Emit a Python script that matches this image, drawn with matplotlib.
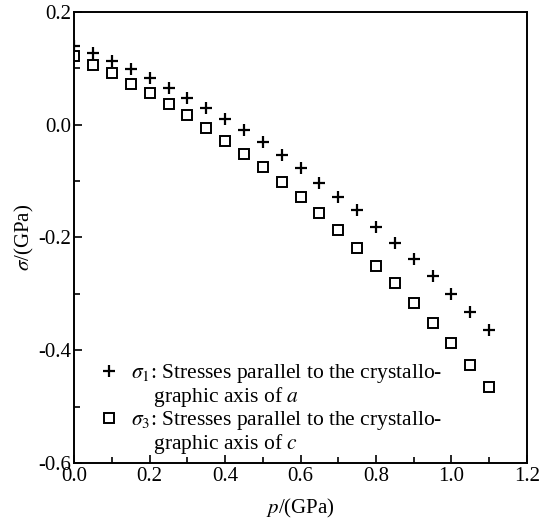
import numpy as np
import matplotlib
matplotlib.use("Agg")
import matplotlib.pyplot as plt
from matplotlib.lines import Line2D
from matplotlib.ticker import MultipleLocator, FormatStrFormatter

# %% Data
pressure = [0.00, 0.05, 0.10, 0.15, 0.20, 0.25, 0.30, 0.35, 0.40, 0.45, 0.50, 0.55,
            0.60, 0.65, 0.70, 0.75, 0.80, 0.85, 0.90, 0.95, 1.00, 1.05, 1.10]
sigma1 = [0.140, 0.128, 0.113, 0.099, 0.083, 0.066, 0.048, 0.030, 0.010, -0.009, -0.031, -0.053,
          -0.076, -0.103, -0.128, -0.152, -0.181, -0.209, -0.238, -0.269, -0.300, -0.332, -0.365]
sigma3 = [0.122, 0.106, 0.091, 0.073, 0.057, 0.037, 0.017, -0.005, -0.028, -0.052, -0.075, -0.102,
          -0.129, -0.157, -0.187, -0.218, -0.250, -0.281, -0.316, -0.351, -0.388, -0.426, -0.465]

legend_lines = ["$\\sigma_1$: Stresses parallel to the crystallo-",
                "$\\quad\\;\\,$graphic axis of $a$",
                "$\\sigma_3$: Stresses parallel to the crystallo-",
                "$\\quad\\;\\,$graphic axis of $c$"]

# %% Style
plt.rcParams['font.family'] = ['Liberation Serif', 'DejaVu Serif']
plt.rcParams['mathtext.fontset'] = 'stix'
plt.rcParams['font.size'] = 15

fig = plt.figure(figsize=(5.42, 5.23), dpi=100)
ax = fig.add_axes([0.137, 0.115, 0.835, 0.862])

p1, = ax.plot(pressure, sigma1, linestyle='none', marker='+', markersize=9,
              markeredgewidth=1.6, color='black')
p3, = ax.plot(pressure, sigma3, linestyle='none', marker='s', markersize=7.5,
              markeredgewidth=1.4, markerfacecolor='white', color='black')

ax.set_xlim(0, 1.2)
ax.set_ylim(-0.6, 0.2)
ax.xaxis.set_major_locator(MultipleLocator(0.2))
ax.xaxis.set_minor_locator(MultipleLocator(0.1))
ax.yaxis.set_major_locator(MultipleLocator(0.2))
ax.yaxis.set_minor_locator(MultipleLocator(0.1))
ax.xaxis.set_major_formatter(FormatStrFormatter('%.1f'))
ax.yaxis.set_major_formatter(FormatStrFormatter('%.1f'))
ax.tick_params(which='both', direction='in', top=False, right=False, width=1.2)
ax.tick_params(which='major', length=6, pad=2)
ax.tick_params(axis='x', which='major', pad=3)
ax.tick_params(which='minor', length=4)
for s in ax.spines.values():
    s.set_linewidth(1.4)

ax.set_xlabel("$p$/(GPa)", labelpad=8)
ax.set_ylabel("$\\sigma$/(GPa)", labelpad=2)

blank = Line2D([], [], linestyle='none')
ax.legend([p1, blank, p3, blank], legend_lines, loc='lower left', frameon=False,
          fontsize=15.5, handlelength=1.0, handletextpad=0.5, borderaxespad=0.0,
          labelspacing=0.0, bbox_to_anchor=(0.035, -0.004))

plt.savefig("out.png", dpi=100)
plt.close()
